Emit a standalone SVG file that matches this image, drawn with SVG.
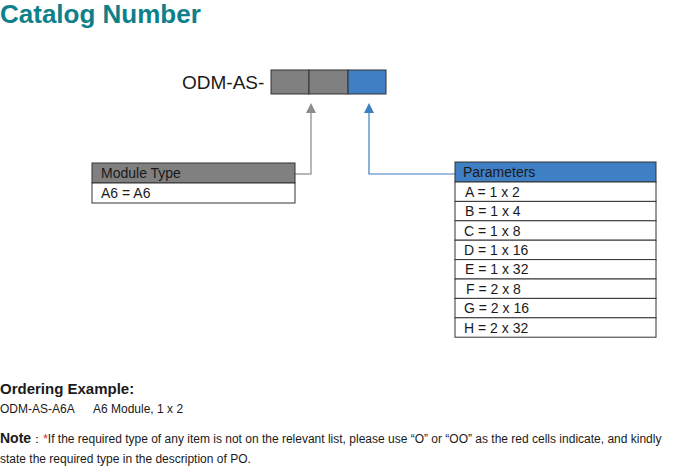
<svg xmlns="http://www.w3.org/2000/svg" width="700" height="466" viewBox="0 0 700 466">
<style>
text{font-family:"Liberation Sans",Arial,sans-serif;fill:#1a1a1a}
.cell{stroke:#333;stroke-width:1}
.t{font-size:14px}
.s{font-size:12px}
</style>
<defs>
<marker id="ag" markerWidth="10" markerHeight="12" refX="0" refY="5" orient="auto" markerUnits="userSpaceOnUse"><path d="M0,0 L10,5 L0,10 Z" fill="#8c8c8c"/></marker>
<marker id="ab" markerWidth="10" markerHeight="12" refX="0" refY="5" orient="auto" markerUnits="userSpaceOnUse"><path d="M0,0 L10,5 L0,10 Z" fill="#3f7fc4"/></marker>
</defs>
<rect width="700" height="466" fill="#fff"/>
<text x="0" y="23" style="font-size:26px;font-weight:bold;fill:#0e808a">Catalog Number</text>
<g id="code">
<text x="182" y="89" style="font-size:19px">ODM-AS-</text>
<rect class="cell" x="271" y="70" width="38" height="24" fill="#808080"/>
<rect class="cell" x="309" y="70" width="39" height="24" fill="#808080"/>
<rect class="cell" x="348" y="70" width="38" height="24" fill="#3f7fc4"/>
</g>
<g id="connectors" fill="none">
<polyline points="295,174 311,174 112,114" stroke="none"/>
<polyline points="295,174 311,174 311,113" stroke="#a0a0a0" stroke-width="1.5" marker-end="url(#ag)"/>
<polyline points="455,174 369,174 369,113" stroke="#3f7fc4" stroke-width="1.2" marker-end="url(#ab)"/>
</g>
<g id="module">
<rect class="cell" x="92" y="163" width="203" height="20" fill="#808080"/>
<rect class="cell" x="92" y="183" width="203" height="20" fill="#fff"/>
<text class="t" x="101" y="178">Module Type</text>
<text class="t" x="101" y="198">A6 = A6</text>
</g>
<g id="params">
<rect class="cell" x="455" y="162" width="201" height="20" fill="#3f7fc4"/>
<text class="t" x="463" y="177">Parameters</text>
<g fill="#fff">
<rect class="cell" x="455" y="182" width="201" height="19.4"/>
<rect class="cell" x="455" y="201.4" width="201" height="19.4"/>
<rect class="cell" x="455" y="220.8" width="201" height="19.4"/>
<rect class="cell" x="455" y="240.2" width="201" height="19.4"/>
<rect class="cell" x="455" y="259.6" width="201" height="19.4"/>
<rect class="cell" x="455" y="279" width="201" height="19.4"/>
<rect class="cell" x="455" y="298.4" width="201" height="19.4"/>
<rect class="cell" x="455" y="317.8" width="201" height="19.4"/>
</g>
<text class="t" x="465" y="197">A = 1 x 2</text>
<text class="t" x="465" y="216">B = 1 x 4</text>
<text class="t" x="464" y="236">C = 1 x 8</text>
<text class="t" x="464" y="255">D = 1 x 16</text>
<text class="t" x="465" y="274">E = 1 x 32</text>
<text class="t" x="466" y="294">F = 2 x 8</text>
<text class="t" x="464" y="313">G = 2 x 16</text>
<text class="t" x="464" y="333">H = 2 x 32</text>
</g>
<text x="0" y="394" style="font-size:15px;font-weight:bold">Ordering Example:</text>
<text class="s" x="0" y="413">ODM-AS-A6A<tspan x="93">A6 Module, 1 x 2</tspan></text>
<text x="0" y="443" class="s"><tspan style="font-size:14px;font-weight:bold">Note</tspan><tspan>：</tspan><tspan style="fill:#e02020">*</tspan><tspan>If the required type of any item is not on the relevant list, please use “O” or “OO” as the red cells indicate, and kindly</tspan></text>
<text class="s" x="0" y="463">state the required type in the description of PO.</text>
</svg>
